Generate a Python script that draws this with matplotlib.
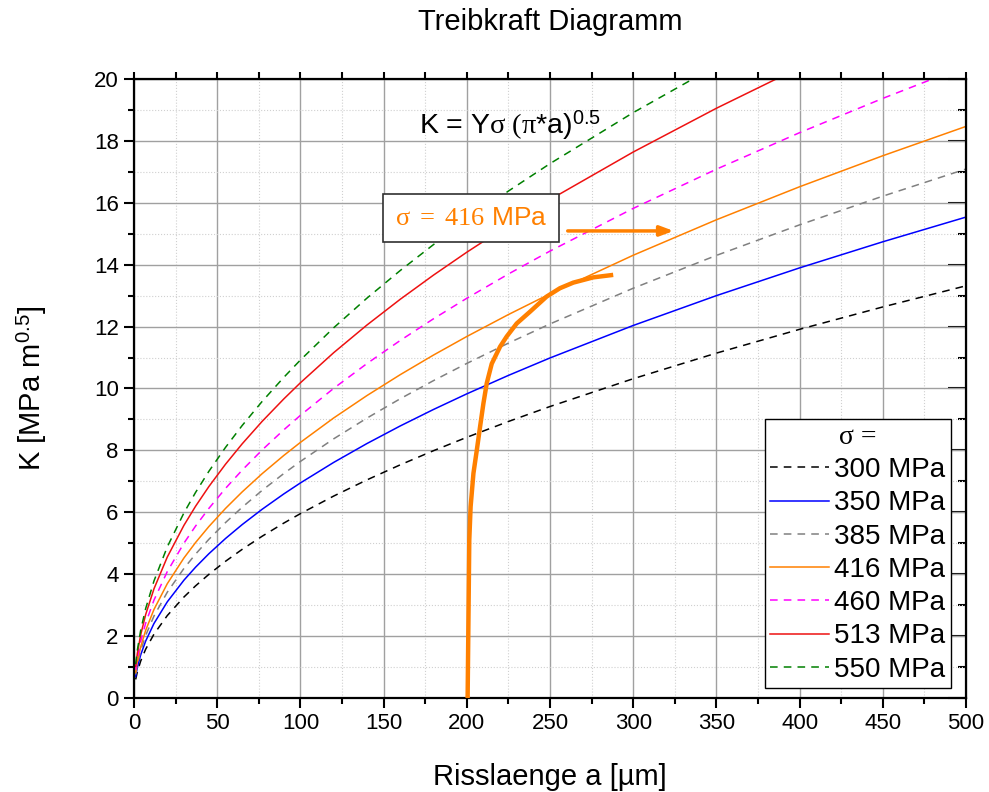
import numpy as np
import matplotlib.pyplot as plt
from matplotlib.ticker import MultipleLocator

# -------------------------
# Daten
# -------------------------
a_um = [1, 2, 4, 7, 12, 20, 30, 37, 45, 55, 65, 77, 90, 100, 120, 140, 160, 180, 200, 225,
        250, 300, 350, 400, 450, 500]

K_300 = [0.60, 0.842, 1.191, 1.576, 2.063, 2.663, 3.262, 3.623, 3.995, 4.417, 4.802, 5.226,
         5.650, 5.956, 6.524, 7.047, 7.533, 7.990, 8.422, 8.933,
         9.417, 10.315, 11.142, 11.911, 12.634, 13.317]
K_350 = [0.695, 0.983, 1.390, 1.838, 2.407, 3.107, 3.806, 4.226, 4.661, 5.153, 5.602, 6.097,
         6.592, 6.948, 7.611, 8.221, 8.789, 9.322, 9.826, 10.422,
         10.986, 12.035, 12.999, 13.896, 14.739, 15.537]
K_385 = [0.764, 1.081, 1.529, 2.022, 2.648, 3.418, 4.186, 4.649, 5.127, 5.668, 6.162, 6.707,
         7.251, 7.643, 8.373, 9.043, 9.668, 10.254, 10.809, 11.465,
         12.085, 13.238, 14.299, 15.286, 16.213, 17.090]
K_416 = [0.826, 1.168, 1.652, 2.185, 2.861, 3.693, 4.523, 5.023, 5.540, 6.125, 6.658, 7.247,
         7.835, 8.258, 9.047, 9.771, 10.446, 11.080, 11.679, 12.388,
         13.058, 14.304, 15.450, 16.517, 17.519, 18.467]
K_460 = [0.913, 1.291, 1.826, 2.416, 3.163, 4.084, 5.002, 5.555, 6.126, 6.772, 7.362, 8.013,
         8.663, 9.132, 10.004, 10.805, 11.551, 12.252, 12.914, 13.698,
         14.439, 15.817, 17.084, 18.264, 19.372, 20.420]
K_513 = [1.018, 1.440, 2.037, 2.695, 3.528, 4.554, 5.578, 6.195, 6.832, 7.553, 8.211, 8.937,
         9.661, 10.184, 11.156, 12.050, 12.882, 13.663, 14.402, 15.276,
         16.102, 17.639, 19.053, 20.368, 21.604, 22.772]
K_550 = [1.092, 1.544, 2.184, 2.889, 3.782, 4.883, 5.980, 6.642, 7.324, 8.097, 8.803, 9.581,
         10.358, 10.919, 11.961, 12.919, 13.811, 14.649, 15.441, 16.378,
         17.264, 18.912, 20.427, 21.837, 23.162, 24.415]

# gemessene Kurve (dicke orange Linie)
mess_a = [200.5, 201.5, 202.3, 204, 206, 208, 210, 212, 215, 220, 224, 230, 238, 248, 256, 264, 276, 288]
mess_K = [0.0, 5.1, 6.18, 7.26, 8.0, 8.77, 9.52, 10.17, 10.8, 11.35, 11.68, 12.1, 12.48, 12.97,
          13.24, 13.42, 13.59, 13.67]

series = [
    ('300 MPa', K_300, 'black', '--'),
    ('350 MPa', K_350, '#0000ff', '-'),
    ('385 MPa', K_385, '#808080', '--'),
    ('416 MPa', K_416, '#ff8000', '-'),
    ('460 MPa', K_460, '#ff00ff', '--'),
    ('513 MPa', K_513, '#ee1111', '-'),
    ('550 MPa', K_550, '#008000', '--'),
]

plt.rcParams['font.family'] = ['Liberation Sans', 'DejaVu Sans']
plt.rcParams['mathtext.fontset'] = 'custom'
plt.rcParams['mathtext.rm'] = 'Liberation Serif'
plt.rcParams['mathtext.it'] = 'Liberation Serif:italic'
plt.rcParams['mathtext.sf'] = 'Liberation Sans'

fig = plt.figure(figsize=(9.89, 7.92), dpi=100)
ax = fig.add_axes([0.1355, 0.1187, 0.8412, 0.7816])

for label, K, col, ls in series:
    if ls == '--':
        ax.plot(a_um, K, color=col, linestyle=(0, (5, 4)), linewidth=1.1, label=label)
    else:
        ax.plot(a_um, K, color=col, linestyle='-', linewidth=1.1, label=label)

ax.plot(mess_a, mess_K, color='#ff8000', linewidth=3.2, solid_capstyle='butt',
        solid_joinstyle='round', zorder=5)

ax.set_xlim(0, 500)
ax.set_ylim(0, 20)
ax.xaxis.set_major_locator(MultipleLocator(50))
ax.xaxis.set_minor_locator(MultipleLocator(25))
ax.yaxis.set_major_locator(MultipleLocator(2))
ax.yaxis.set_minor_locator(MultipleLocator(1))

ax.grid(which='major', color='#a0a0a0', linewidth=1.0)
ax.grid(which='minor', color='#d0d0d0', linewidth=0.8, linestyle=':')
ax.set_axisbelow(True)

ax.tick_params(which='major', direction='out', length=7, width=1.5, labelsize=16, pad=4)
ax.tick_params(which='minor', direction='out', length=4, width=1.5)
for sp in ax.spines.values():
    sp.set_linewidth(1.6)

# Ticks oben (nach aussen) und rechts (nach innen)
top = ax.secondary_xaxis('top')
top.xaxis.set_major_locator(MultipleLocator(50))
top.xaxis.set_minor_locator(MultipleLocator(25))
top.tick_params(which='both', direction='out', length=5, width=1.5, labeltop=False)
right = ax.secondary_yaxis('right')
right.yaxis.set_major_locator(MultipleLocator(2))
right.yaxis.set_minor_locator(MultipleLocator(1))
right.tick_params(which='major', direction='in', length=13, width=1.5, labelright=False)
right.tick_params(which='minor', direction='in', length=6, width=1.5, labelright=False)

ax.set_xlabel('Risslaenge a [µm]', fontsize=21, labelpad=21)
ax.set_ylabel(r'K [MPa m$^{\mathsf{0.5}}$]', fontsize=21, labelpad=32)
ax.set_title('Treibkraft Diagramm', fontsize=21, pad=35)

# Formel
ax.text(171, 18.25, r'K = Y$\mathrm{\sigma\ (\pi}$*a)$^{\mathsf{0.5}}$', fontsize=20.5,
        ha='left', va='baseline')

# Anmerkung sigma = 416 MPa
ax.text(202.5, 15.5, r'$\mathrm{\sigma\ =\ 416}$ MPa', fontsize=19, color='#ff8000',
        ha='center', va='center',
        bbox=dict(boxstyle='square,pad=0.45', facecolor='white', edgecolor='#303030', linewidth=1.2),
        zorder=6)
ax.annotate('', xy=(326, 15.09), xytext=(259, 15.09),
            arrowprops=dict(arrowstyle='-|>,head_length=0.8,head_width=0.3', color='#ff8000', lw=2.5),
            zorder=6)

leg = ax.legend(loc='lower right', bbox_to_anchor=(0.982, 0.016), borderaxespad=0,
                fontsize=20, title='σ =', frameon=True, fancybox=False,
                edgecolor='black', framealpha=1, handlelength=2.1, handletextpad=0.2,
                labelspacing=0.26, borderpad=0.2)
leg.get_title().set_fontfamily('Liberation Serif')
leg.get_title().set_fontsize(20)
leg.get_frame().set_linewidth(1.0)

fig.savefig('out.png', dpi=100)
